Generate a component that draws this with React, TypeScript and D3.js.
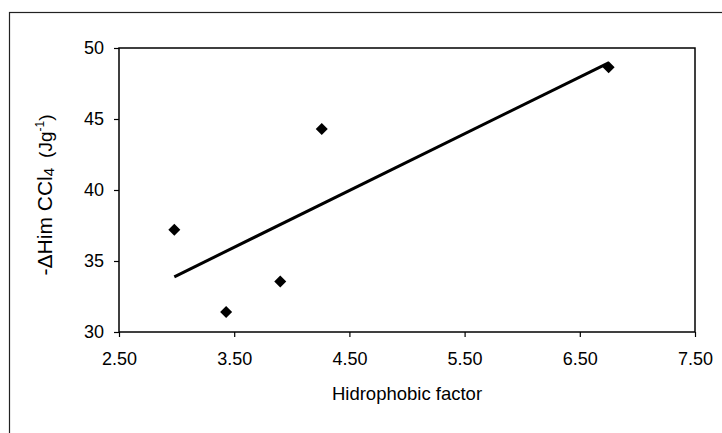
import { useEffect, useRef } from 'react';
import { select, scaleLinear, axisLeft, axisBottom, mean, sum } from 'd3';

const hydroFactor = [2.98, 3.43, 3.9, 4.26, 6.75];
const enthalpy = [37.2, 31.4, 33.55, 44.3, 48.65];
const xTicks = [2.5, 3.5, 4.5, 5.5, 6.5, 7.5];
const yTicks = [30, 35, 40, 45, 50];

const App = () => {
  const ref = useRef<SVGSVGElement>(null);

  useEffect(() => {
    const width = 722;
    const height = 433;
    const margin = { top: 48, right: 27, bottom: 101, left: 119 };
    const font = '"Liberation Sans", Arial, sans-serif';

    const svg = select(ref.current);
    svg.selectAll('*').remove();
    svg.attr('width', width).attr('height', height);

    svg.append('rect').attr('width', width).attr('height', height).attr('fill', '#fff');

    // outer chart frame (runs off the right and bottom edges)
    svg
      .append('rect')
      .attr('x', 9.5)
      .attr('y', 12.5)
      .attr('width', 800)
      .attr('height', 500)
      .attr('fill', 'none')
      .attr('stroke', '#222')
      .attr('stroke-width', 1.2);

    const w = width - margin.left - margin.right;
    const h = height - margin.top - margin.bottom;

    const g = svg.append('g').attr('transform', `translate(${margin.left},${margin.top})`);

    const x = scaleLinear().domain([2.5, 7.5]).range([0, w]);
    const y = scaleLinear().domain([30, 50]).range([h, 0]);

    g.append('rect')
      .attr('width', w)
      .attr('height', h)
      .attr('fill', 'none')
      .attr('stroke', '#000')
      .attr('stroke-width', 1.5);

    const yAxis = g
      .append('g')
      .call(axisLeft(y).tickValues(yTicks).tickSize(5).tickPadding(10).tickFormat((d) => `${d}`));
    yAxis.select('.domain').remove();
    yAxis.selectAll('line').attr('stroke', '#000').attr('stroke-width', 1.2);
    yAxis.selectAll('text').style('font-family', font).style('font-size', '18px').attr('fill', '#000');

    const xAxis = g
      .append('g')
      .attr('transform', `translate(0,${h})`)
      .call(axisBottom(x).tickValues(xTicks).tickSize(5).tickPadding(15).tickFormat((d) => (d as number).toFixed(2)));
    xAxis.select('.domain').remove();
    xAxis.selectAll('line').attr('stroke', '#000').attr('stroke-width', 1.2);
    xAxis.selectAll('text').style('font-family', font).style('font-size', '18px').attr('fill', '#000');

    // least squares trend line
    const mx = mean(hydroFactor) as number;
    const my = mean(enthalpy) as number;
    const slope =
      sum(hydroFactor.map((v, i) => (v - mx) * (enthalpy[i] - my))) /
      sum(hydroFactor.map((v) => (v - mx) ** 2));
    const x0 = Math.min(...hydroFactor);
    const x1 = Math.max(...hydroFactor);
    g.append('line')
      .attr('x1', x(x0))
      .attr('y1', y(my + slope * (x0 - mx)))
      .attr('x2', x(x1))
      .attr('y2', y(my + slope * (x1 - mx)))
      .attr('stroke', '#000')
      .attr('stroke-width', 3);

    const r = 6;
    g.selectAll('path.pt')
      .data(hydroFactor)
      .enter()
      .append('path')
      .attr('class', 'pt')
      .attr('d', `M0,${-r}L${r},0L0,${r}L${-r},0Z`)
      .attr('transform', (d, i) => `translate(${x(d)},${y(enthalpy[i])})`)
      .attr('fill', '#000');

    svg
      .append('text')
      .attr('x', margin.left + w / 2)
      .attr('y', 400)
      .attr('text-anchor', 'middle')
      .style('font-family', font)
      .style('font-size', '18.5px')
      .text('Hidrophobic factor');

    const yl = svg
      .append('text')
      .attr('transform', `translate(52,195) rotate(-90)`)
      .attr('text-anchor', 'middle')
      .style('font-family', font)
      .style('font-size', '21px');
    yl.append('tspan').text('-ΔHim CCl');
    yl.append('tspan').style('font-size', '15px').attr('dy', 2).text('4');
    yl.append('tspan').style('font-size', '19px').attr('dy', -2).attr('dx', 10).text('(Jg');
    yl.append('tspan').style('font-size', '12px').attr('dy', -8).text('-1');
    yl.append('tspan').style('font-size', '19px').attr('dy', 8).text(')');
  }, []);

  return <svg ref={ref} style={{ position: 'absolute', left: 0, top: 0 }}></svg>;
};

export default App;
